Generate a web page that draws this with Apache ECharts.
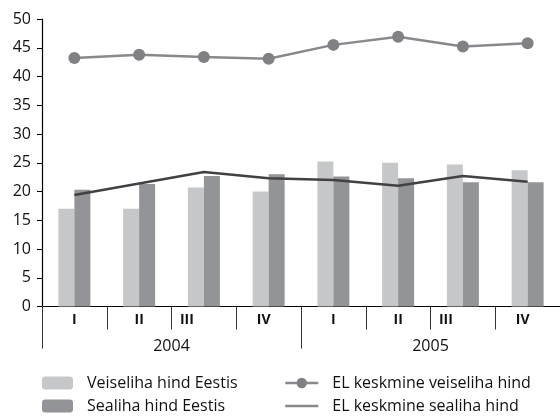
<!DOCTYPE html>
<html>
<head>
<meta charset="utf-8">
<script src="https://cdn.jsdelivr.net/npm/echarts@6/dist/echarts.min.js"></script>
<style>
  html, body { margin: 0; padding: 0; background: #fff; }
  #chart { width: 560px; height: 418px; }
</style>
</head>
<body>
<div id="chart"></div>
<script>
// quarters and years
var quarters = ['I', 'II', 'III', 'IV', 'I', 'II', 'III', 'IV']
var years = ['2004', '2005']

// prices
var veiselihaEestis = [17.0, 17.0, 20.7, 20.0, 25.2, 25.0, 24.7, 23.7]
var sealihaEestis = [20.3, 21.3, 22.7, 23.0, 22.6, 22.3, 21.6, 21.6]
var elVeiseliha = [43.2, 43.8, 43.4, 43.1, 45.5, 46.9, 45.2, 45.8]
var elSealiha = [19.4, 21.4, 23.4, 22.3, 22.0, 21.0, 22.7, 21.7]

var yTicks = { min: 0, max: 50, step: 5 }

var font = 'Open Sans'
var chart = echarts.init(document.getElementById('chart'))

var option = {
  animation: false,
  grid: { left: 42, right: -2, top: 19, bottom: 111.5 },
  legend: [
    {
      orient: 'vertical',
      left: 42,
      top: 375,
      height: 80,
      padding: 0,
      itemWidth: 31,
      itemHeight: 13,
      itemGap: 7,
      textStyle: { fontFamily: font, fontSize: 16, color: '#111', padding: [0, 0, 0, 9] },
      data: ['Veiseliha hind Eestis', 'Sealiha hind Eestis']
    },
    {
      orient: 'vertical',
      left: 284,
      top: 375,
      height: 80,
      padding: 0,
      itemWidth: 33,
      itemHeight: 13,
      itemGap: 7,
      textStyle: { fontFamily: font, fontSize: 16, color: '#111', padding: [0, 0, 0, 9] },
      data: [
        { name: 'EL keskmine veiseliha hind', itemStyle: { color: '#808184' }, lineStyle: { color: '#88898c', width: 2.5 } },
        { name: 'EL keskmine sealiha hind', itemStyle: { color: 'rgba(0,0,0,0)', borderWidth: 0 }, lineStyle: { color: '#88898c', width: 2.5 } }
      ]
    }
  ],
  xAxis: [
    {
      type: 'category',
      data: quarters,
      axisLine: { lineStyle: { color: '#000', width: 1.2 } },
      axisTick: { show: true, length: 23, lineStyle: { color: '#333' } },
      axisLabel: {
        margin: 7,
        fontFamily: font,
        fontSize: 14,
        fontWeight: 'bold',
        color: '#111',
        formatter: function (v) {
          if (v === 'III') return '{q3|III}'
          if (v === 'IV') return '{q4|IV}'
          return v
        },
        rich: {
          q3: { fontFamily: font, fontSize: 14, fontWeight: 'bold', color: '#111', padding: [0, 34, 0, 0] },
          q4: { fontFamily: font, fontSize: 14, fontWeight: 'bold', color: '#111', padding: [0, 10, 0, 0] }
        }
      }
    },
    {
      type: 'category',
      data: years,
      position: 'bottom',
      axisLine: { show: false },
      axisTick: { show: true, length: 42, lineStyle: { color: '#333' } },
      axisLabel: { margin: 32, fontFamily: font, fontSize: 16, color: '#111' }
    }
  ],
  yAxis: {
    type: 'value',
    min: yTicks.min,
    max: yTicks.max,
    interval: yTicks.step,
    splitLine: { show: false },
    axisLine: { show: true, lineStyle: { color: '#000', width: 1.2 } },
    axisTick: { show: true, length: 5, lineStyle: { color: '#000' } },
    axisLabel: { margin: 11, fontFamily: font, fontSize: 16, color: '#111' }
  },
  series: [
    {
      name: 'Veiseliha hind Eestis',
      type: 'bar',
      barWidth: 16,
      barGap: 0,
      itemStyle: { color: '#c6c7c9' },
      data: veiselihaEestis
    },
    {
      name: 'Sealiha hind Eestis',
      type: 'bar',
      barWidth: 16,
      barGap: 0,
      itemStyle: { color: '#939498' },
      data: sealihaEestis
    },
    {
      name: 'EL keskmine veiseliha hind',
      type: 'line',
      symbol: 'circle',
      symbolSize: 12,
      itemStyle: { color: '#808184' },
      lineStyle: { color: '#88898c', width: 2.5 },
      data: elVeiseliha
    },
    {
      name: 'EL keskmine sealiha hind',
      type: 'line',
      symbol: 'none',
      itemStyle: { color: '#414042' },
      lineStyle: { color: '#414042', width: 2.5 },
      data: elSealiha
    }
  ]
}

chart.setOption(option)
</script>
</body>
</html>
